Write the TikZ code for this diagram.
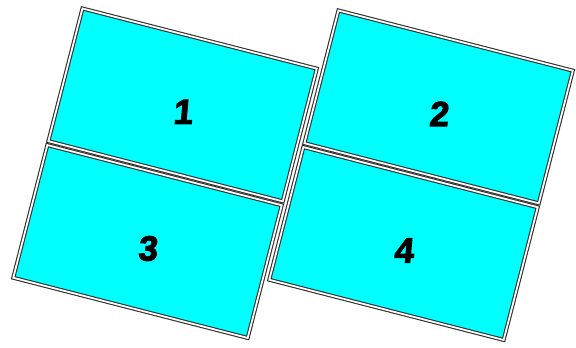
\documentclass[tikz,border=0pt]{standalone}
\usepackage{fontspec}
\setsansfont{Liberation Sans}
\newfontfamily\numfont[FakeBold=3,FakeSlant=0.09]{Liberation Sans Bold}
\usetikzlibrary{positioning}
\definecolor{panelcyan}{RGB}{0,255,255}
\definecolor{rimgray}{RGB}{45,45,45}
\tikzset{
  panelbox/.style={rectangle,draw=rimgray,line width=1.1pt,double=white,double distance=1.8pt,
    fill=panelcyan,inner sep=0pt,minimum width=242bp,minimum height=137bp,rotate=-14.4},
  numlabel/.style={font=\fontsize{35}{35}\selectfont\numfont,text=black,yshift=-7bp}
}
\begin{document}
\begin{tikzpicture}[x=1bp,y=1bp]
  \useasboundingbox (0,0) rectangle (576,347);
  %% Left column
  \node[panelbox] (p1) at (182.6,242.1) {};
  \node[panelbox] (p3) at (147.5,105.5) {};
  %% Right column
  \node[panelbox] (p2) at (438.6,240.1) {};
  \node[panelbox] (p4) at (403.5,103.5) {};

  %% Numbers
  \node[numlabel] (n1) at (p1) {1};
  \node[numlabel] (n2) at (p2) {2};
  \node[numlabel] (n3) at (p3) {3};
  \node[numlabel] (n4) at (p4) {4};
\end{tikzpicture}
\end{document}
